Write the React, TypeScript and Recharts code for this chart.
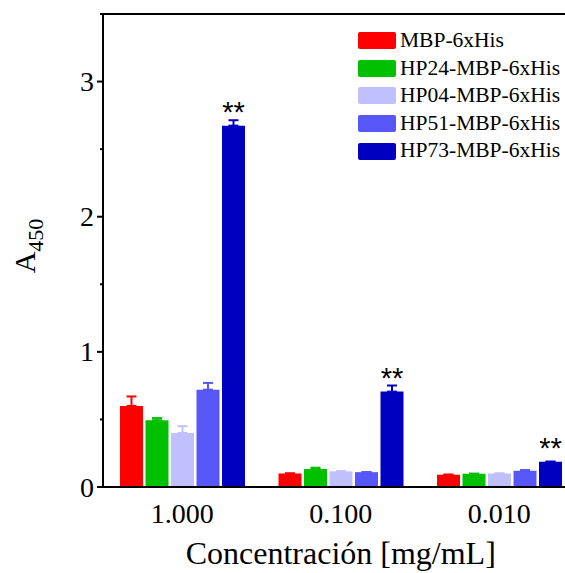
import React from 'react';
import { Bar, BarChart, ErrorBar, Label, LabelList, Legend, ReferenceLine, XAxis, YAxis } from 'recharts';

// concentrations on the x axis
const concentrations = ['1.000', '0.100', '0.010'];

// mean absorbance at 450 nm per protein
const mbp = [0.6, 0.1, 0.091];
const hp24 = [0.494, 0.133, 0.098];
const hp04 = [0.4, 0.116, 0.1];
const hp51 = [0.72, 0.11, 0.12];
const hp73 = [2.674, 0.706, 0.187];

// upper standard deviation
const mbpErr = [0.07, 0, 0];
const hp24Err = [0.016, 0.01, 0];
const hp04Err = [0.05, 0, 0];
const hp51Err = [0.05, 0, 0.006];
const hp73Err = [0.04, 0.045, 0];

// significance marks over HP73
const hp73Sig = ['**', '**', '**'];

const yTicks = [0, 0.5, 1, 1.5, 2, 2.5, 3, 3.5];

const series = [
  { key: 'mbp', name: 'MBP-6xHis', color: '#ff0000', values: mbp, err: mbpErr },
  { key: 'hp24', name: 'HP24-MBP-6xHis', color: '#00c000', values: hp24, err: hp24Err },
  { key: 'hp04', name: 'HP04-MBP-6xHis', color: '#c0c0ff', values: hp04, err: hp04Err },
  { key: 'hp51', name: 'HP51-MBP-6xHis', color: '#5757f7', values: hp51, err: hp51Err },
  { key: 'hp73', name: 'HP73-MBP-6xHis', color: '#0000c0', values: hp73, err: hp73Err },
];

const data = concentrations.map((c, i) => {
  const row: Record<string, any> = { conc: c, sig: hp73Sig[i] };
  series.forEach((s) => {
    row[s.key] = s.values[i];
    row[`${s.key}Err`] = [0, s.err[i]];
  });
  return row;
});

const FONT = '"Liberation Serif", "Times New Roman", serif';

function YTick(props: any) {
  const { x, y, payload } = props;
  const major = Number.isInteger(payload.value);
  const len = major ? 6 : 3;
  return (
    <g>
      <line x1={x - len} x2={x} y1={y} y2={y} stroke="#000" strokeWidth={2} />
      {major && (
        <text x={x - 9} y={y} dy="0.34em" textAnchor="end" fontSize={28} fill="#000" fontFamily={FONT}>
          {payload.value}
        </text>
      )}
    </g>
  );
}

function LegendBox() {
  return (
    <div style={{ fontFamily: FONT, fontSize: 21.5, color: '#000' }}>
      {series.map((s) => (
        <div key={s.key} style={{ display: 'flex', alignItems: 'center', height: 27.6 }}>
          <div style={{ width: 38, height: 17, background: s.color, borderRadius: 2, marginRight: 4 }} />
          <span style={{ lineHeight: '27.6px' }}>{s.name}</span>
        </div>
      ))}
    </div>
  );
}

export default function App() {
  return (
    <div style={{ position: 'fixed', left: 0, top: 0, width: 565, height: 573, overflow: 'hidden', background: '#fff' }}>
      <BarChart
        width={600}
        height={573}
        data={data}
        margin={{ top: 14, right: 21.5, bottom: 0, left: 43 }}
        barSize={23}
        barGap={2.5}
        style={{ fontFamily: FONT }}
      >
        <XAxis
          dataKey="conc"
          height={86}
          tickLine={false}
          tickSize={0}
          tickMargin={16}
          axisLine={{ stroke: '#000', strokeWidth: 2 }}
          tick={{ fontSize: 28, fill: '#000', fontFamily: FONT }}
        >
          <Label value="Concentración [mg/mL]" position="insideBottom" offset={9} fontSize={32} fill="#000" fontFamily={FONT} />
        </XAxis>
        <YAxis
          width={60}
          domain={[0, 3.5]}
          ticks={yTicks}
          interval={0}
          tickLine={false}
          tickSize={0}
          tickMargin={0}
          tick={<YTick />}
          axisLine={{ stroke: '#000', strokeWidth: 2 }}
        >
          <Label
            content={() => (
              <text transform="rotate(-90, 35, 246)" x={35} y={246} textAnchor="middle" fill="#000" fontFamily={FONT}>
                <tspan fontSize={30}>A</tspan>
                <tspan fontSize={22} dy={8}>450</tspan>
              </text>
            )}
          />
        </YAxis>
        <ReferenceLine y={3.5} stroke="#000" strokeWidth={2} />
        <Legend
          layout="vertical"
          align="center"
          verticalAlign="middle"
          content={<LegendBox />}
          wrapperStyle={{ top: 27, left: 358, width: 'auto' }}
        />
        {series.map((s) => (
          <Bar key={s.key} dataKey={s.key} name={s.name} fill={s.color} isAnimationActive={false}>
            <ErrorBar dataKey={`${s.key}Err`} direction="y" width={5} stroke={s.color} strokeWidth={2} isAnimationActive={false} />
            {s.key === 'hp73' && (
              <LabelList
                dataKey="sig"
                position="top"
                offset={4}
                fontSize={29}
                fill="#000"
                fontFamily='"Liberation Sans", Arial, sans-serif'
              />
            )}
          </Bar>
        ))}
      </BarChart>
    </div>
  );
}
